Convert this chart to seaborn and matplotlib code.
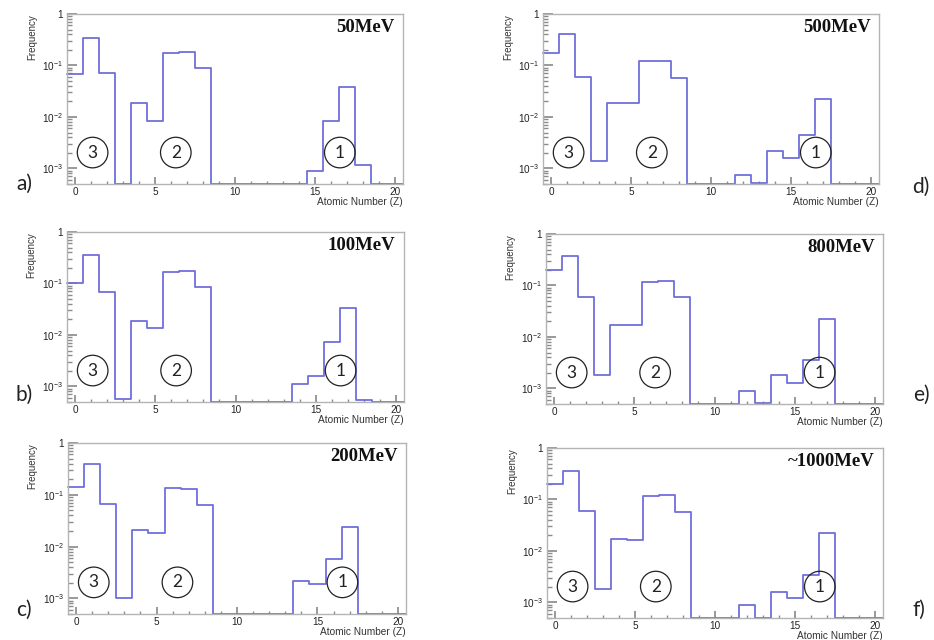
"""
Fragment charge distributions for six beam energies (ROOT-style log histograms)
"""
import numpy as np
import pandas as pd
import matplotlib
matplotlib.use('Agg')
import matplotlib.pyplot as plt
import matplotlib.ticker as mticker
import seaborn as sns

# Data: frequency per atomic number Z = 0..20 (0 means empty bin)
atomic_number = np.arange(0, 21)

freq_50 = [0.068, 0.34, 0.072, 0, 0.019, 0.0083, 0.175, 0.18, 0.088, 0, 0,
           0, 0, 0, 0, 0.00088, 0.0082, 0.039, 0.00115, 0, 0]
freq_100 = [0.10, 0.36, 0.068, 0.00058, 0.019, 0.0135, 0.165, 0.172, 0.085, 0, 0,
            0, 0, 0, 0.0011, 0.0016, 0.0073, 0.034, 0.00055, 0, 0]
freq_200 = [0.14, 0.39, 0.066, 0.001, 0.021, 0.018, 0.135, 0.132, 0.064, 0, 0,
            0, 0, 0, 0.0022, 0.0019, 0.0058, 0.024, 0, 0, 0]
freq_500 = [0.175, 0.40, 0.06, 0.0014, 0.019, 0.019, 0.12, 0.125, 0.058, 0, 0,
            0, 0.00075, 0.00052, 0.0022, 0.0016, 0.0044, 0.022, 0, 0, 0]
freq_800 = [0.20, 0.37, 0.061, 0.0018, 0.017, 0.017, 0.118, 0.125, 0.06, 0, 0,
            0, 0.0009, 0.00053, 0.0018, 0.0013, 0.0036, 0.022, 0, 0, 0]
freq_1000 = [0.20, 0.36, 0.06, 0.0018, 0.017, 0.016, 0.115, 0.122, 0.058, 0, 0,
             0, 0.0009, 0.0005, 0.0016, 0.0012, 0.0034, 0.022, 0, 0, 0]

energy_labels = ['50MeV', '100MeV', '200MeV', '500MeV', '800MeV', '~1000MeV']
panel_letters = ['a)', 'b)', 'c)', 'd)', 'e)', 'f)']
all_freqs = [freq_50, freq_100, freq_200, freq_500, freq_800, freq_1000]

group_names = ['3', '2', '1']
group_z = [1.1, 6.3, 16.55]

y_ticks = [1e-3, 1e-2, 1e-1, 1]
y_tick_labels = ['$10^{-3}$', '$10^{-2}$', '$10^{-1}$', '1']
x_ticks = [0, 5, 10, 15, 20]

# Layout (pixels in a 934x640 canvas): left, top, width, height of each frame
W, H = 934, 640
frames = [(67, 14, 336, 170), (67, 232, 337, 170), (68, 443, 338, 171),
          (543, 14, 336, 170), (546, 234, 337, 170), (547, 448, 336, 170)]
letter_pos = [(24, 184), (24, 395), (24, 610), (921, 187), (921, 395), (919, 610)]

LINE_COLOR = '#6f6fdc'
FRAME_COLOR = '#b4b4b4'
Y_MIN = 5e-4

sns.set_theme(style='white')
plt.rcParams['font.family'] = ['Liberation Sans', 'DejaVu Sans']
plt.rcParams['mathtext.default'] = 'regular'

fig = plt.figure(figsize=(W / 100, H / 100), dpi=100)

for freqs, energy, letter, frame, lpos in zip(all_freqs, energy_labels, panel_letters,
                                             frames, letter_pos):
    left, top, width, height = frame
    ax = fig.add_axes([left / W, (H - top - height) / H, width / W, height / H])

    # empty bins are drawn along the bottom of the frame, like ROOT does
    df = pd.DataFrame({'z': atomic_number, 'freq': freqs})
    df['shown'] = df['freq'].where(df['freq'] > 0, Y_MIN)
    sns.histplot(data=df, x='z', weights='shown', discrete=True,
                 element='step', fill=False, color=LINE_COLOR, linewidth=1.3, ax=ax)
    for line in ax.lines:
        line.set_clip_on(False)

    ax.set_yscale('log')
    ax.set_ylim(Y_MIN, 1)
    ax.set_xlim(-0.5, 20.5)

    ax.set_xticks(x_ticks)
    ax.set_xticklabels([str(t) for t in x_ticks])
    ax.xaxis.set_minor_locator(mticker.MultipleLocator(1))
    ax.set_yticks(y_ticks)
    ax.set_yticklabels(y_tick_labels)
    ax.yaxis.set_minor_locator(mticker.LogLocator(base=10, subs=np.arange(2, 10)))
    ax.yaxis.set_minor_formatter(mticker.NullFormatter())

    ax.tick_params(which='both', direction='in', color='#8c8c8c', labelsize=7.2,
                   labelcolor='#222222', top=False, right=False, bottom=True, left=True)
    ax.tick_params(axis='y', which='major', length=7, pad=3)
    ax.tick_params(axis='y', which='minor', length=3.5)
    ax.tick_params(axis='x', which='major', length=5, pad=2.5)
    ax.tick_params(axis='x', which='minor', length=2.5)

    for spine in ax.spines.values():
        spine.set_color(FRAME_COLOR)
        spine.set_linewidth(1.0)

    ax.set_ylabel('Frequency', loc='top', fontsize=7, color='#333333')
    ax.yaxis.set_label_coords(-0.09, 1.0)
    ax.set_xlabel('Atomic Number (Z)', loc='right', fontsize=7.3, color='#333333', labelpad=0)

    ax.text(0.975, 0.92, energy, transform=ax.transAxes, ha='right', va='center',
            fontsize=13.5, fontweight='bold', family='Liberation Serif', color='#111111')

    for name, z in zip(group_names, group_z):
        ax.text(z, 0.185, name, transform=ax.get_xaxis_transform(), ha='center', va='center',
                fontsize=12.5, family='Lato', color='#222222',
                bbox=dict(boxstyle='circle,pad=0.42', fc='none', ec='#222222', lw=0.9))

    fig.text(lpos[0] / W, 1 - lpos[1] / H, letter, ha='center', va='center',
             fontsize=15, family='Lato', color='#222222')

fig.savefig('out.png', dpi=100)
